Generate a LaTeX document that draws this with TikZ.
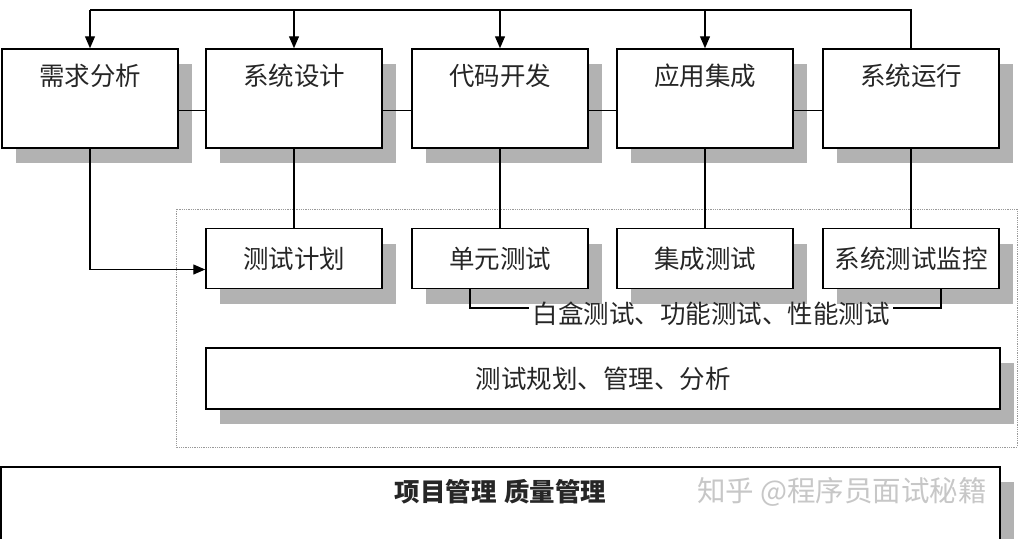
\documentclass[tikz,border=0pt]{standalone}
\usepackage{fontspec}
\setmainfont{Noto Sans CJK SC}
\usetikzlibrary{shapes,arrows,arrows.meta,shadows}

\tikzset{
  stage/.style={draw, line width=1.5pt, fill=white, minimum width=176pt, minimum height=99pt,
    drop shadow={shadow xshift=14pt, shadow yshift=-15pt, fill=black!30, opacity=1}},
  testbox/.style={stage, minimum height=60pt},
  link/.style={line width=1.3pt},
  tip/.style={-{Triangle[length=12pt,width=10pt]}},
  phase/.style={anchor=north, yshift=-12pt, text=black!85},
}

\begin{document}
\begin{tikzpicture}[x=1pt, y=-1pt, font=\fontsize{25.5}{30}\selectfont]
    \useasboundingbox (0,0) rectangle (1024,538);

%test area
    \draw[densely dotted, black!40, line width=0.8pt] (176,209) rectangle (1017,447);

%phases
    \node[stage, label={[phase]north:需求分析}] (req) at (90,98.5) {};
    \node[stage, label={[phase]north:系统设计}] (des) at (294,98.5) {};
    \node[stage, label={[phase]north:代码开发}] (dev) at (500,98.5) {};
    \node[stage, label={[phase]north:应用集成}] (intg) at (705,98.5) {};
    \node[stage, label={[phase]north:系统运行}] (run) at (911,98.5) {};

%tests
    \node[testbox, text=black!85] (plan) at (294,258.5) {测试计划};
    \node[testbox, text=black!85] (unit) at (500,258.5) {单元测试};
    \node[testbox, text=black!85] (itest) at (705,258.5) {集成测试};
    \node[testbox, text=black!85] (mon) at (911,258.5) {系统测试监控};
    \node[inner sep=3pt, text=black!85] (kinds) at (711,314) {白盒测试、功能测试、性能测试};

    \node[stage, minimum width=794pt, minimum height=61pt, text=black!85] (mgmt) at (603,378.5) {测试规划、管理、分析};

%project
    \node[stage, minimum width=999pt, minimum height=120pt,
      label={[anchor=north, yshift=-10pt, text=black!85]north:\textbf{项目管理\hspace{0.3em}质量管理}}] (proj) at (500.5,527) {};
    \node[text=black!22, font=\fontsize{28.5}{32}\selectfont] (mark) at (842,492) {知乎 @程序员面试秘籍};

%feedback line on top
    \coordinate (top) at (0,10);
    \draw[link] (run.north) -- (run.north |- top) -- (req.north |- top);
    \foreach \b in {req,des,dev,intg} {
        \draw[link,tip] (\b.north |- top) -- (\b.north);
    }

%chain
    \draw[link] ([yshift=-12pt]req.east) -- ([yshift=-12pt]des.west);
    \draw[link] ([yshift=-12pt]des.east) -- ([yshift=-12pt]dev.west);
    \draw[link] ([yshift=-12pt]dev.east) -- ([yshift=-12pt]intg.west);
    \draw[link] ([yshift=-12pt]intg.east) -- ([yshift=-12pt]run.west);

%down to tests
    \draw[link] (des.south) -- (plan.north);
    \draw[link] (dev.south) -- (unit.north);
    \draw[link] (intg.south) -- (itest.north);
    \draw[link] (run.south) -- (mon.north);
    \draw[link,tip] (req.south) |- ([yshift=-11pt]plan.west);

%bracket
    \draw[link] ([xshift=-30pt]unit.south) |- ([yshift=6pt]kinds.west);
    \draw[link] ([xshift=30pt]mon.south) |- ([yshift=6pt]kinds.east);

\end{tikzpicture}
\end{document}
